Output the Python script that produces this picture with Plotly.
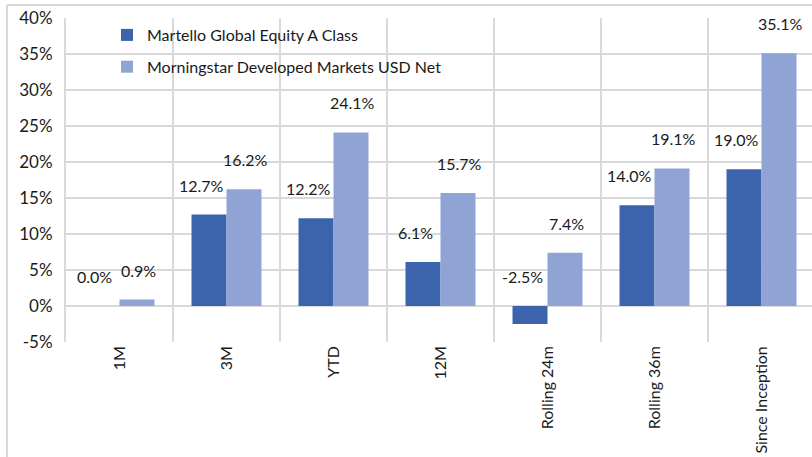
import plotly.graph_objects as go

categories = ["1M", "3M", "YTD", "12M", "Rolling 24m", "Rolling 36m", "Since Inception"]
fund_name = "Martello Global Equity A Class"
bench_name = "Morningstar Developed Markets USD Net"
fund_values = [0.0, 12.7, 12.2, 6.1, -2.5, 14.0, 19.0]
bench_values = [0.9, 16.2, 24.1, 15.7, 7.4, 19.1, 35.1]
y_ticks = [-5, 0, 5, 10, 15, 20, 25, 30, 35, 40]
y_tick_text = [f"{v}%" for v in y_ticks]

DARK = "#3B64AD"
LIGHT = "#8FA3D5"
GRID = "#D9D9D9"
FONT = "Lato"
TXT = "#1a1a1a"

W, H = 812, 457
ML, MR, MT, MB = 66, 0, 18, 115

fig = go.Figure()
fig.add_trace(go.Bar(x=categories, y=fund_values, name=fund_name,
                     marker=dict(color=DARK, line=dict(width=0)),
                     legendgroup="a"))
fig.add_trace(go.Bar(x=categories, y=bench_values, name=bench_name,
                     marker=dict(color=LIGHT, line=dict(width=0)),
                     legendgroup="b"))

# data labels
bar_px = 35
for i, c in enumerate(categories):
    for vals, dx in ((fund_values, -bar_px / 2 - 8), (bench_values, bar_px / 2 + 1)):
        v = vals[i]
        fig.add_annotation(x=c, y=max(v, 0), text=f"{v:.1f}%", showarrow=False,
                           xanchor="center", yanchor="bottom", xshift=dx, yshift=18,
                           font=dict(family=FONT, size=16, color=TXT))

pw = W - ML - MR
ph = H - MT - MB
# outer frame lines (image border)
fx = (7 - ML) / pw
fy = 1 + (MT - 5) / ph
fig.add_shape(type="line", xref="paper", yref="paper", x0=fx, x1=fx, y0=fy, y1=-MB / ph,
              line=dict(color=GRID, width=2))
fig.add_shape(type="line", xref="paper", yref="paper", x0=fx, x1=1.0, y0=fy, y1=fy,
              line=dict(color=GRID, width=2))

fig.update_layout(
    width=W, height=H,
    margin=dict(l=ML, r=MR, t=MT, b=MB),
    paper_bgcolor="white", plot_bgcolor="white",
    barmode="group", bargap=0.346, bargroupgap=0,
    font=dict(family=FONT, size=16, color=TXT),
    showlegend=True,
    legend=dict(x=(107 - ML) / pw, y=1 - (18 - MT) / ph, xanchor="left", yanchor="top",
                bgcolor="rgba(0,0,0,0)", font=dict(family=FONT, size=16, color=TXT),
                tracegroupgap=8, itemwidth=30, traceorder="grouped"),
    xaxis=dict(type="category", range=[-0.5, -0.5 + pw / 107.0],
               tickangle=-90, tickson="boundaries", showgrid=True, gridcolor=GRID, gridwidth=2,
               ticks="", showline=False, tickfont=dict(family=FONT, size=16, color=TXT),
               fixedrange=True),
    yaxis=dict(range=[-5, 40], tickvals=y_ticks, ticktext=y_tick_text, showgrid=True,
               gridcolor=GRID, gridwidth=2, zeroline=True, zerolinecolor=GRID, zerolinewidth=2,
               showline=True, linecolor=GRID, linewidth=2, ticks="",
               ticklabelstandoff=8, tickfont=dict(family=FONT, size=17, color=TXT)),
)

fig.write_html("out.html")
